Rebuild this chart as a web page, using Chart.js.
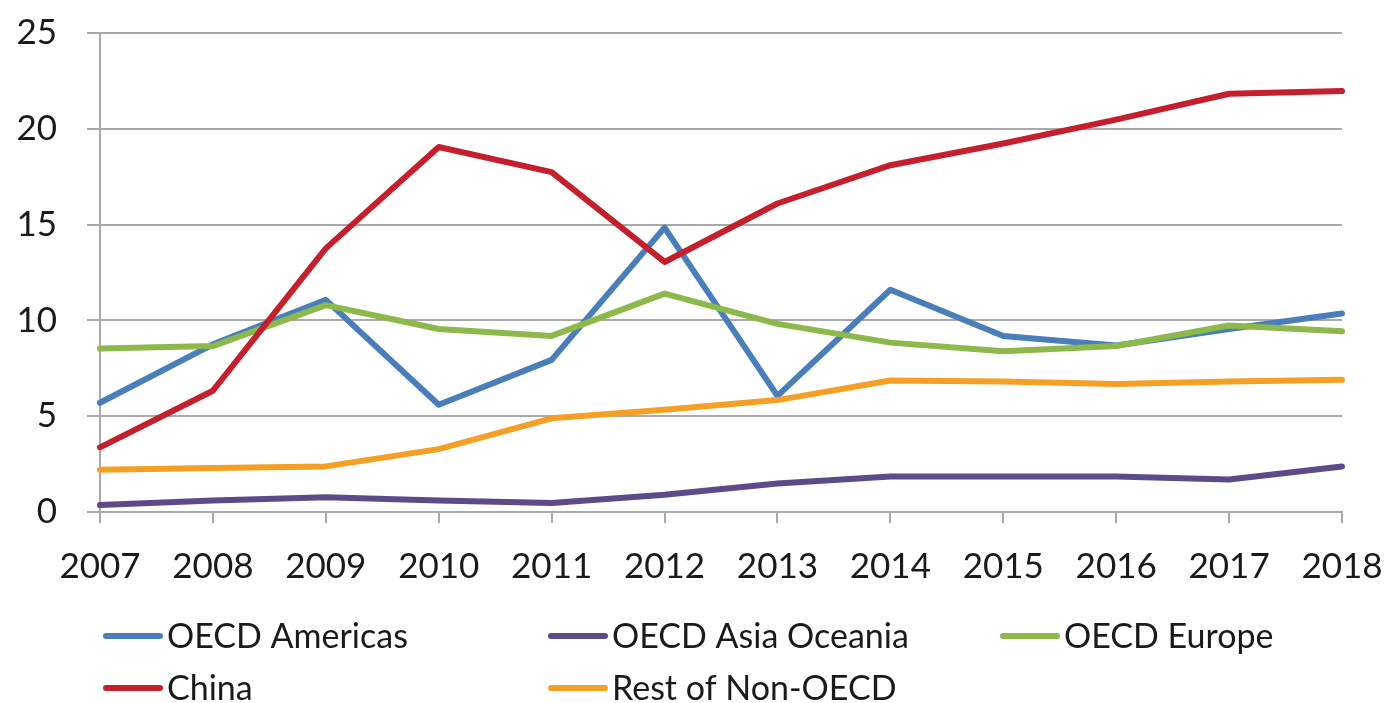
<!DOCTYPE html>
<html>
<head>
<meta charset="utf-8">
<script src="https://cdn.jsdelivr.net/npm/chart.js@4/dist/chart.umd.min.js"></script>
<style>
  html, body { margin: 0; padding: 0; background: #ffffff; }
  #wrap { width: 1395px; height: 703px; position: relative; }
</style>
</head>
<body>
<div id="wrap"><canvas id="c" width="1395" height="703"></canvas></div>
<script>
// Years on the category axis
const years = ['2007', '2008', '2009', '2010', '2011', '2012', '2013', '2014', '2015', '2016', '2017', '2018'];

// Series values per year
const oecdAmericas    = [5.7, 8.75, 11.07, 5.6, 7.94, 14.84, 6.06, 11.6, 9.19, 8.69, 9.55, 10.36];
const oecdAsiaOceania = [0.36, 0.6, 0.77, 0.6, 0.47, 0.9, 1.49, 1.85, 1.85, 1.85, 1.7, 2.38];
const oecdEurope      = [8.53, 8.66, 10.8, 9.55, 9.19, 11.4, 9.82, 8.84, 8.39, 8.66, 9.73, 9.43];
const china           = [3.37, 6.33, 13.76, 19.05, 17.74, 13.05, 16.1, 18.1, 19.23, 20.48, 21.83, 21.97];
const restNonOecd     = [2.2, 2.29, 2.38, 3.28, 4.89, 5.34, 5.84, 6.86, 6.81, 6.68, 6.81, 6.9];

// Value axis ticks
const yTicks = [0, 5, 10, 15, 20, 25];

const FONT = 'Lato';
const GRID = '#a9a9a9';
const TEXT = '#1a1a1a';

function series(label, data, color, order) {
  return {
    label, data, order,
    borderColor: color,
    backgroundColor: color,
    borderWidth: 6,
    pointRadius: 0,
    pointHoverRadius: 0,
    tension: 0,
    borderJoinStyle: 'round',
    borderCapStyle: 'round',
    fill: false
  };
}

// Three-column legend under the plot
const gridLegend = {
  id: 'gridLegend',
  afterDraw(chart) {
    const ctx = chart.ctx;
    const cols = [103, 548, 1000];
    const rows = [636, 688];
    ctx.save();
    ctx.font = '34px ' + FONT;
    ctx.textBaseline = 'middle';
    ctx.textAlign = 'left';
    chart.data.datasets.forEach((ds, i) => {
      const x = cols[i % 3];
      const y = rows[Math.floor(i / 3)];
      ctx.strokeStyle = ds.borderColor;
      ctx.lineWidth = 6;
      ctx.lineCap = 'round';
      ctx.beginPath();
      ctx.moveTo(x + 3, y);
      ctx.lineTo(x + 57, y);
      ctx.stroke();
      ctx.fillStyle = TEXT;
      ctx.fillText(ds.label, x + 64, y + 1);
    });
    ctx.restore();
  }
};

new Chart(document.getElementById('c'), {
  type: 'line',
  data: {
    labels: years,
    datasets: [
      series('OECD Americas', oecdAmericas, '#4a7ebb', 5),
      series('OECD Asia Oceania', oecdAsiaOceania, '#5d4a8a', 4),
      series('OECD Europe', oecdEurope, '#8cb84c', 3),
      series('China', china, '#c31f2c', 2),
      series('Rest of Non-OECD', restNonOecd, '#f4a026', 1)
    ]
  },
  plugins: [gridLegend],
  options: {
    responsive: false,
    animation: false,
    events: [],
    layout: { padding: { top: 33, right: 53, bottom: 101, left: 0 } },
    plugins: {
      legend: { display: false },
      tooltip: { enabled: false },
      title: { display: false }
    },
    scales: {
      x: {
        type: 'category',
        offset: false,
        grid: {
          display: true,
          drawOnChartArea: false,
          drawTicks: true,
          tickLength: 11,
          color: GRID,
          lineWidth: 2
        },
        border: { display: true, color: GRID, width: 2 },
        ticks: {
          color: TEXT,
          font: { family: FONT, size: 35 },
          padding: 23,
          maxRotation: 0,
          autoSkip: false
        },
        afterFit(scale) {
          scale.height = 90;
          scale.paddingLeft = 0;
          scale.paddingRight = 0;
        }
      },
      y: {
        min: 0,
        max: 25,
        afterBuildTicks(scale) { scale.ticks = yTicks.map(v => ({ value: v })); },
        grid: {
          display: true,
          drawOnChartArea: true,
          drawTicks: true,
          tickLength: 13,
          color: GRID,
          lineWidth: 2
        },
        border: { display: true, color: GRID, width: 2 },
        ticks: {
          color: TEXT,
          font: { family: FONT, size: 35 },
          padding: 30
        },
        afterFit(scale) {
          scale.width = 100;
          scale.paddingTop = 0;
          scale.paddingBottom = 0;
        }
      }
    }
  }
});
</script>
</body>
</html>
